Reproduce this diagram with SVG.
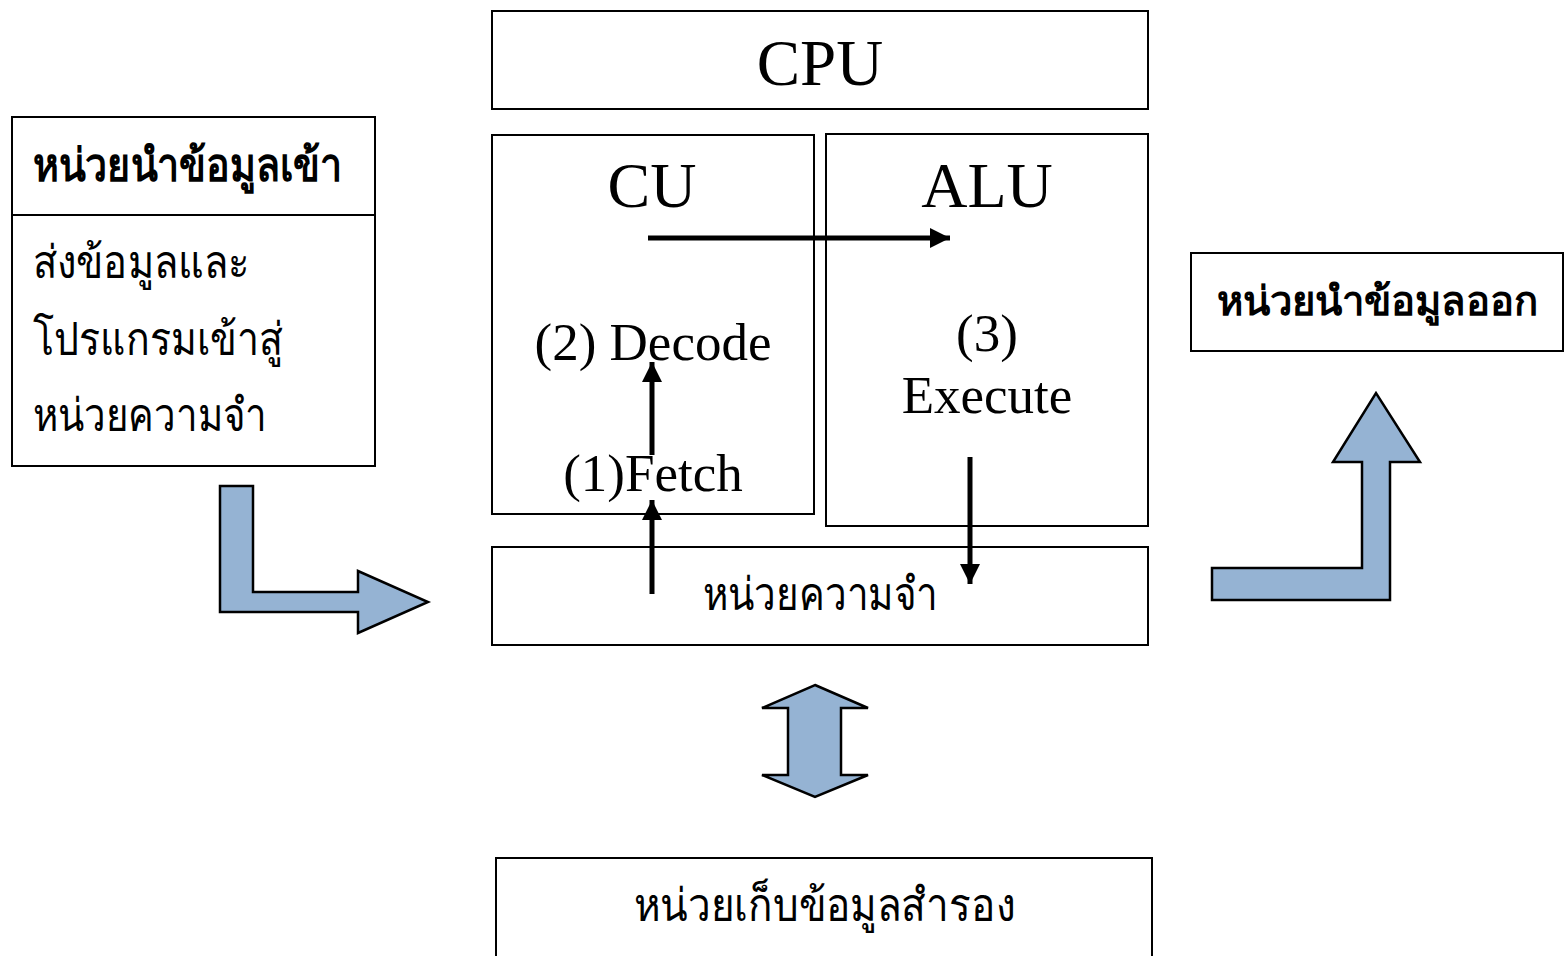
<svg xmlns="http://www.w3.org/2000/svg" width="1564" height="956" viewBox="0 0 1564 956">
<defs>
<style>
.box{fill:#fff;stroke:#000;stroke-width:2}
.t{font-family:"Liberation Serif","Noto Sans",serif;fill:#000}
.th{font-family:"Liberation Serif","Noto Sans",serif;fill:#000}
.big{fill:#95b3d3;stroke:#000;stroke-width:2.5;stroke-linejoin:miter}
.ln{stroke:#000;stroke-width:5;fill:none}
</style>
<marker id="ah" viewBox="0 0 10 10" refX="10" refY="5" markerWidth="4" markerHeight="4" orient="auto" markerUnits="strokeWidth">
<path d="M0,0 L10,5 L0,10 z" fill="#000"/>
</marker>
</defs>
<rect width="1564" height="956" fill="#fff"/>
<g id="cpu">
<rect class="box" x="492" y="11" width="656" height="98"/>
<text class="t" x="820" y="85" font-size="65" text-anchor="middle">CPU</text>
</g>
<g id="cu">
<rect class="box" x="492" y="135" width="322" height="379"/>
<text class="t" x="652" y="207" font-size="64" text-anchor="middle">CU</text>
<text class="t" x="653" y="360" font-size="53" text-anchor="middle">(2) Decode</text>
<text class="t" x="653" y="491" font-size="53" text-anchor="middle">(1)Fetch</text>
</g>
<g id="alu">
<rect class="box" x="826" y="134" width="322" height="392"/>
<text class="t" x="987" y="207" font-size="64" text-anchor="middle">ALU</text>
<text class="t" x="987" y="351" font-size="53" text-anchor="middle">(3)</text>
<text class="t" x="987" y="413" font-size="53" text-anchor="middle">Execute</text>
</g>
<g id="memory">
<rect class="box" x="492" y="547" width="656" height="98"/>
<text class="th" x="703" y="610" font-size="46" textLength="235" lengthAdjust="spacingAndGlyphs">หน่วยความจำ</text>
</g>
<g id="input">
<rect class="box" x="12" y="117" width="363" height="349"/>
<line x1="12" y1="215" x2="375" y2="215" stroke="#000" stroke-width="2"/>
<text class="th" x="33" y="181" font-size="46" font-weight="bold" textLength="309" lengthAdjust="spacingAndGlyphs">หน่วยนำข้อมูลเข้า</text>
<text class="th" x="33" y="278" font-size="46" textLength="217" lengthAdjust="spacingAndGlyphs">ส่งข้อมูลและ</text>
<text class="th" x="33" y="355" font-size="46" textLength="250" lengthAdjust="spacingAndGlyphs">โปรแกรมเข้าสู่</text>
<text class="th" x="33" y="431" font-size="46" textLength="234" lengthAdjust="spacingAndGlyphs">หน่วยความจำ</text>
</g>
<g id="output">
<rect class="box" x="1191" y="253" width="372" height="98"/>
<text class="th" x="1377" y="315" font-size="40" font-weight="bold" text-anchor="middle">หน่วยนำข้อมูลออก</text>
</g>
<g id="storage">
<rect class="box" x="496" y="858" width="656" height="100"/>
<text class="th" x="634" y="921" font-size="46" textLength="381" lengthAdjust="spacingAndGlyphs">หน่วยเก็บข้อมูลสำรอง</text>
</g>
<g id="connectors">
<line class="ln" x1="648" y1="238" x2="950" y2="238" marker-end="url(#ah)"/>
<line class="ln" x1="652" y1="455" x2="652" y2="362" marker-end="url(#ah)"/>
<line class="ln" x1="652" y1="594" x2="652" y2="500" marker-end="url(#ah)"/>
<line class="ln" x1="970" y1="457" x2="970" y2="584" marker-end="url(#ah)"/>
<path class="big" d="M220,486 L253,486 L253,592 L358,592 L358,571 L428,602 L358,633 L358,612 L220,612 Z"/>
<path class="big" d="M1212,568 L1362,568 L1362,462 L1333,462 L1376,393 L1420,462 L1390,462 L1390,600 L1212,600 Z"/>
<path class="big" d="M815,685 L868,708 L841,708 L841,775 L868,775 L815,797 L762,775 L788,775 L788,708 L762,708 Z"/>
</g>
</svg>
